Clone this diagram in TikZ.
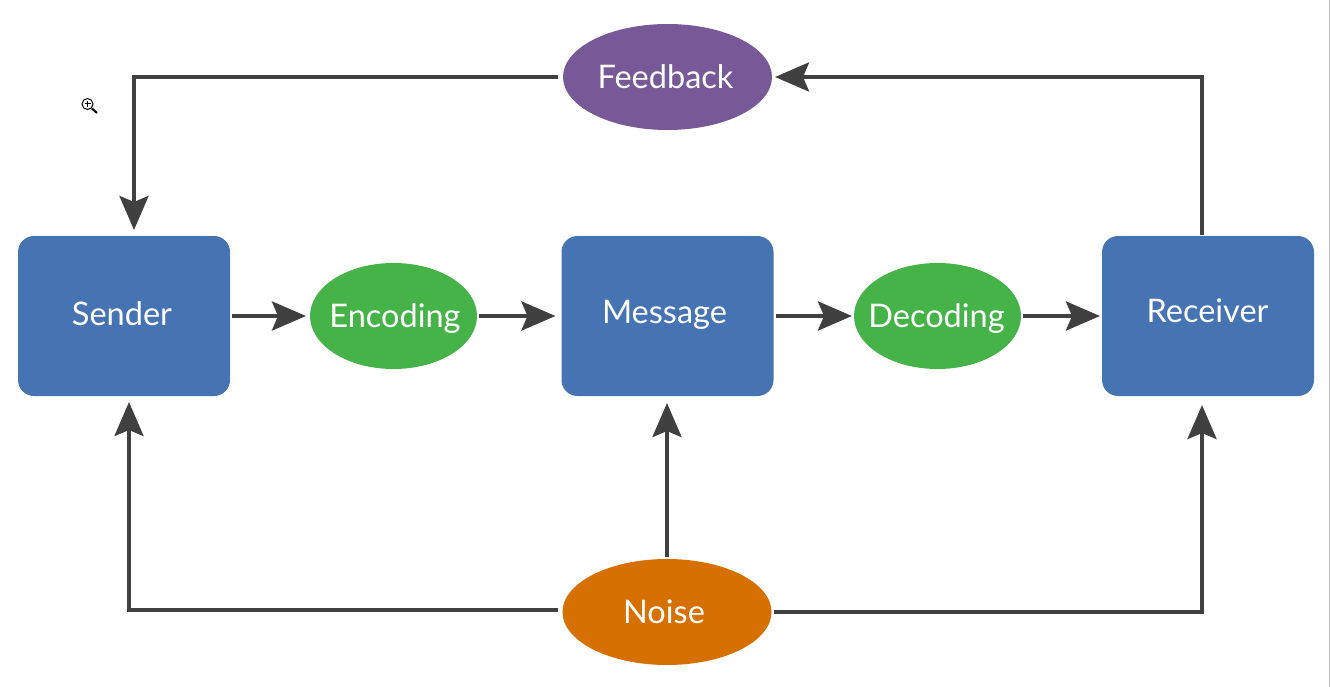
\documentclass[tikz,border=0pt]{standalone}
\usepackage{fontspec}
\setmainfont{Lato}
\usetikzlibrary{arrows.meta,shapes.geometric}

\definecolor{boxblue}{HTML}{4674B3}
\definecolor{codegreen}{HTML}{46B348}
\definecolor{fbpurple}{HTML}{775998}
\definecolor{noiseorange}{HTML}{D67000}
\definecolor{linegray}{HTML}{404040}

\newcommand{\nodetext}[3]{\raisebox{#2}[0pt][0pt]{\makebox[0pt]{\kern#1 #3}}}

\begin{document}
\begin{tikzpicture}[x=1pt, y=-1pt, >={Stealth[length=34pt, width=29pt, inset=6pt]}, nodes = {align = center, text = white, font = \fontsize{32.5}{38}\selectfont}]

  \tikzstyle{block}=[rectangle, rounded corners=16pt, minimum width=212pt, minimum height=160pt, fill=boxblue, inner sep=0pt, outer sep=2pt]
  \tikzstyle{code}=[ellipse, minimum width=167pt, minimum height=106pt, fill=codegreen, inner sep=0pt, outer sep=2pt]
  \tikzstyle{source}=[ellipse, minimum width=209pt, minimum height=106pt, inner sep=0pt, outer sep=2pt]
  \tikzstyle{flow}=[->, draw=linegray, line width=4pt, shorten >=2pt, line join=miter]

  \useasboundingbox (0,0) rectangle (1330,687);
  \draw[gray!50, line width=1pt] (1329.5,0) -- (1329.5,687);

  % Blocks
  \node[block] (sender) at (124,316) {\nodetext{-4pt}{-9pt}{Sender}};
  \node[block] (message) at (667.5,316) {\nodetext{-6pt}{-7pt}{Message}};
  \node[block] (receiver) at (1208,316) {\nodetext{-1pt}{-6pt}{Receiver}};

  % Encoding and decoding
  \node[code] (encoding) at (393.5,316) {\nodetext{3pt}{-11.3pt}{Encoding}};
  \node[code] (decoding) at (937.5,316) {\nodetext{-2pt}{-11.3pt}{Decoding}};

  % Feedback and noise
  \node[source, fill=fbpurple] (feedback) at (667.5,77) {\nodetext{-4pt}{-11.3pt}{Feedback}};
  \node[source, fill=noiseorange] (noise) at (667,612) {\nodetext{-6pt}{-11.3pt}{Noise}};

  % Free ends on the blocks
  \coordinate (sendertop) at (134,232);
  \coordinate (senderbot) at (129,400);
  \coordinate (messagebot) at (667,401);
  \coordinate (receivertop) at (1202,235);
  \coordinate (receiverbot) at (1202,403);
  \coordinate (feedbackin) at (773,77);
  \coordinate (feedbackout) at (558,77);
  \coordinate (noiseleft) at (558,610);

  % Main row
  \draw[flow] (sender) -- (encoding);
  \draw[flow, shorten >=4pt] (encoding) -- (message);
  \draw[flow, shorten >=0pt] (message) -- (decoding);
  \draw[flow, shorten >=0pt] (decoding) -- (receiver);

  % Feedback loop
  \draw[flow] (receivertop) |- (feedbackin);
  \draw[flow] (feedbackout) -| (sendertop);

  % Noise lines
  \draw[flow] (noise) -- (messagebot);
  \draw[flow] (noiseleft) -| (senderbot);
  \draw[flow] (noise) -| (receiverbot);

  % Zoom cursor
  \draw[black, line width=1pt] (87.5,104) circle (5.5pt);
  \draw[black, line width=1pt] (84.5,104) -- (90.5,104) (87.5,101) -- (87.5,107);
  \draw[black, line width=2pt] (92,108.5) -- (97,113);

\end{tikzpicture}
\end{document}
